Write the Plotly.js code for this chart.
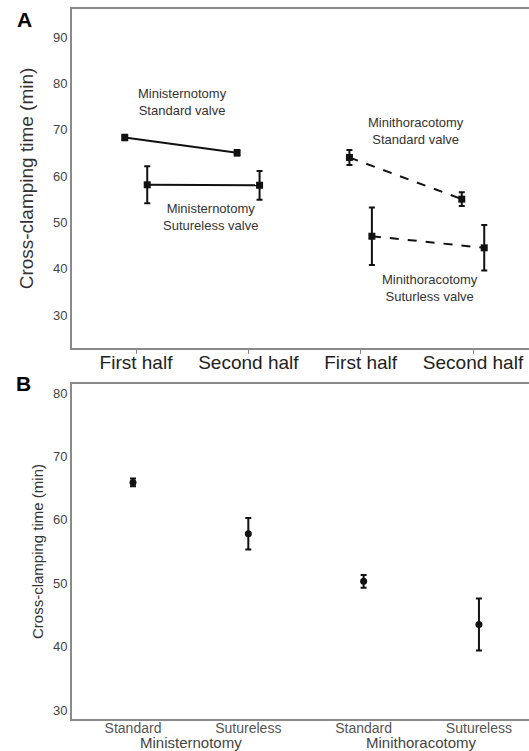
<!DOCTYPE html>
<html>
<head>
<meta charset="utf-8">
<script src="https://cdn.plot.ly/plotly-3.0.1.min.js"></script>
<style>html,body{margin:0;padding:0;background:#fff;}#chart{width:529px;height:751px;}</style>
</head>
<body>
<div id="chart"></div>
<script>
// Panel A data
var aTickLabels = ["First half", "Second half", "First half", "Second half"];
var msStdMean = [68.3, 65.0];
var msStdErr = [0.6, 0.6];
var msSutMean = [58.1, 58.0];
var msSutErr = [4.0, 3.1];
var mtStdMean = [64.0, 55.0];
var mtStdErr = [1.6, 1.5];
var mtSutMean = [47.0, 44.5];
var mtSutErr = [6.2, 4.9];
var aLabels = ["Ministernotomy<br>Standard valve", "Ministernotomy<br>Sutureless valve",
               "Minithoracotomy<br>Standard valve", "Minithoracotomy<br>Suturless valve"];

// Panel B data
var bTickLabels = ["Standard", "Sutureless", "Standard", "Sutureless"];
var bGroups = ["Ministernotomy", "Minithoracotomy"];
var bMean = [65.9, 57.8, 50.3, 43.5];
var bErr = [0.6, 2.5, 1.0, 4.1];

var yTitle = "Cross-clamping time (min)";
var FONT = "Arial, 'Liberation Sans', sans-serif";
var W = 529, H = 751;

function idx(n, start) { var r = []; for (var i = 0; i < n; i++) r.push(start + i); return r; }
function shift(arr, d) { return arr.map(function (v) { return v + d; }); }

var off = 0.1;
function aTrace(xBase, ys, errs, dash) {
  return {
    type: "scatter", mode: "lines+markers", xaxis: "x", yaxis: "y",
    x: xBase, y: ys,
    error_y: { type: "data", array: errs, visible: true, color: "#111", thickness: 2, width: 3 },
    line: { color: "#111", width: 2, dash: dash },
    marker: { symbol: "square", size: 7, color: "#111" },
    hoverinfo: "x+y", showlegend: false
  };
}

var traces = [
  aTrace(shift(idx(2, 0), -off), msStdMean, msStdErr, "solid"),
  aTrace(shift(idx(2, 0), off), msSutMean, msSutErr, "solid"),
  aTrace(shift(idx(2, 2), -off), mtStdMean, mtStdErr, "dash"),
  aTrace(shift(idx(2, 2), off), mtSutMean, mtSutErr, "dash"),
  {
    type: "scatter", mode: "markers", xaxis: "x2", yaxis: "y2",
    x: idx(4, 0), y: bMean,
    error_y: { type: "data", array: bErr, visible: true, color: "#111", thickness: 2, width: 3 },
    marker: { symbol: "circle", size: 7, color: "#111" },
    showlegend: false
  }
];

var axisCol = "#8a8a8a";
var tickCol = "#444";

var layout = {
  width: W, height: H,
  margin: { l: 0, r: 0, t: 0, b: 0 },
  paper_bgcolor: "#fff", plot_bgcolor: "#fff",
  font: { family: FONT, color: "#333" },
  showlegend: false,
  xaxis: {
    domain: [72 / W, 1], range: [-0.5697, 3.4985],
    tickvals: idx(4, 0), ticktext: aTickLabels,
    tickfont: { size: 19, color: "#222" },
    ticks: "outside", ticklen: 4, tickcolor: axisCol, ticklabelstandoff: -8,
    showline: true, linecolor: axisCol, linewidth: 2, mirror: true,
    showgrid: false, zeroline: false, anchor: "y"
  },
  yaxis: {
    domain: [(H - 348) / H, (H - 9) / H], range: [22.88, 96.04],
    tickvals: [30, 40, 50, 60, 70, 80, 90],
    tickfont: { size: 13, color: tickCol },
    ticks: "", showline: true, linecolor: axisCol, linewidth: 2,
    showgrid: false, zeroline: false, anchor: "x",
    title: { text: yTitle, font: { size: 19, color: "#333" }, standoff: 14 }
  },
  xaxis2: {
    domain: [72 / W, 1], range: [-0.529, 3.434],
    tickvals: idx(4, 0), ticktext: bTickLabels,
    tickfont: { size: 14, color: "#555" },
    ticks: "", showline: true, linecolor: axisCol, linewidth: 2, mirror: true,
    ticklabelstandoff: -5,
    showgrid: false, zeroline: false, anchor: "y2"
  },
  yaxis2: {
    domain: [(H - 719) / H, (H - 384) / H], range: [28.58, 81.42],
    tickvals: [30, 40, 50, 60, 70, 80],
    tickfont: { size: 13, color: tickCol },
    ticks: "", showline: true, linecolor: axisCol, linewidth: 2,
    showgrid: false, zeroline: false, anchor: "x2",
    title: { text: yTitle, font: { size: 15, color: "#333" }, standoff: 6 }
  },
  annotations: [
    { text: "<b>A</b>", xref: "paper", yref: "paper", x: 24 / W, y: (H - 20) / H, xanchor: "center", yanchor: "middle", showarrow: false, font: { size: 21, color: "#000" } },
    { text: "<b>B</b>", xref: "paper", yref: "paper", x: 23 / W, y: (H - 383) / H, xanchor: "center", yanchor: "middle", showarrow: false, font: { size: 21, color: "#000" } },
    { text: aLabels[0], xref: "x", yref: "y", x: 0.41, y: 76.0, showarrow: false, font: { size: 13, color: "#333" } },
    { text: aLabels[1], xref: "x", yref: "y", x: 0.66, y: 51.2, showarrow: false, font: { size: 13, color: "#333" } },
    { text: aLabels[2], xref: "x", yref: "y", x: 2.49, y: 69.8, showarrow: false, font: { size: 13, color: "#333" } },
    { text: aLabels[3], xref: "x", yref: "y", x: 2.62, y: 35.8, showarrow: false, font: { size: 13, color: "#333" } },
    { text: bGroups[0], xref: "x2", yref: "paper", x: 0.5, y: (H - 742) / H, yanchor: "middle", showarrow: false, font: { size: 15, color: "#444" } },
    { text: bGroups[1], xref: "x2", yref: "paper", x: 2.5, y: (H - 742) / H, yanchor: "middle", showarrow: false, font: { size: 15, color: "#444" } }
  ]
};

Plotly.newPlot("chart", traces, layout, { staticPlot: true, displayModeBar: false });
</script>
</body>
</html>
